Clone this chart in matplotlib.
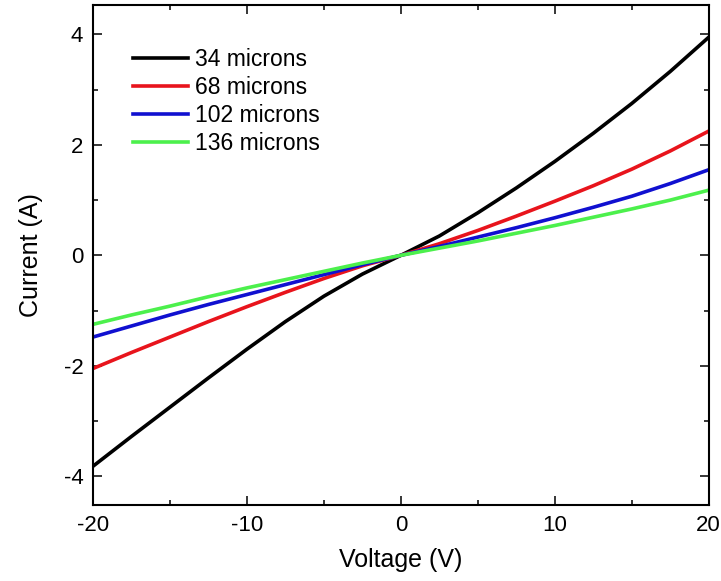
import matplotlib
matplotlib.use("Agg")
import matplotlib.pyplot as plt
from matplotlib.ticker import MultipleLocator

plt.rcParams['font.family'] = ['Liberation Sans', 'DejaVu Sans']
plt.rcParams['axes.unicode_minus'] = False

voltage = [-20, -17.5, -15, -12.5, -10, -7.5, -5, -2.5, 0,
           2.5, 5, 7.5, 10, 12.5, 15, 17.5, 20]

i_34 = [-3.82, -3.28, -2.75, -2.22, -1.70, -1.20, -0.74, -0.34, 0.0,
        0.35, 0.77, 1.22, 1.70, 2.21, 2.75, 3.33, 3.95]
i_68 = [-2.05, -1.76, -1.48, -1.20, -0.93, -0.67, -0.42, -0.19, 0.0,
        0.21, 0.45, 0.71, 0.98, 1.26, 1.56, 1.89, 2.25]
i_102 = [-1.48, -1.28, -1.08, -0.89, -0.71, -0.53, -0.35, -0.17, 0.0,
         0.16, 0.33, 0.50, 0.68, 0.87, 1.07, 1.30, 1.55]
i_136 = [-1.25, -1.08, -0.92, -0.75, -0.59, -0.44, -0.29, -0.14, 0.0,
         0.13, 0.26, 0.40, 0.54, 0.69, 0.84, 1.00, 1.18]

labels = ["34 microns", "68 microns", "102 microns", "136 microns"]
colors = ["black", "#e8141c", "#1010d0", "#4cf04c"]

fig = plt.figure(figsize=(7.21, 5.81), dpi=100)
ax = fig.add_axes([0.129, 0.131, 0.854, 0.861])

for y, lab, c in zip([i_34, i_68, i_102, i_136], labels, colors):
    ax.plot(voltage, y, color=c, lw=2.6, label=lab)

ax.set_xlim(-20, 20)
ax.set_ylim(-4.52, 4.54)
ax.xaxis.set_major_locator(MultipleLocator(10))
ax.xaxis.set_minor_locator(MultipleLocator(5))
ax.yaxis.set_major_locator(MultipleLocator(2))
ax.yaxis.set_minor_locator(MultipleLocator(1))
ax.tick_params(which='both', direction='in', top=True, right=True,
               width=1.1, labelsize=16)
ax.tick_params(which='major', length=6.5, pad=7)
ax.tick_params(which='minor', length=3.5)
for s in ax.spines.values():
    s.set_linewidth(1.5)

ax.set_xlabel("Voltage (V)", fontsize=18, labelpad=9)
ax.set_ylabel("Current (A)", fontsize=18, labelpad=15)

ax.legend(loc='upper left', bbox_to_anchor=(0.065, 0.913), frameon=False,
          fontsize=16.5, handlelength=2.4, handletextpad=0.3,
          labelspacing=0.22, borderpad=0, borderaxespad=0)

fig.savefig("out.png", dpi=100)
